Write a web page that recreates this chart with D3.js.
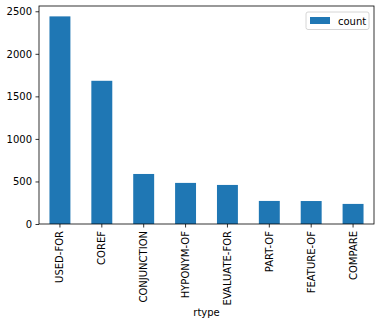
<!DOCTYPE html>
<html>
<head>
<meta charset="utf-8">
<script src="https://cdn.jsdelivr.net/npm/d3@7"></script>
<style>
  body { margin: 0; background: #fff; }
  svg text { font-family: "DejaVu Sans", sans-serif; }
</style>
</head>
<body>
<svg id="chart" width="381" height="326"></svg>
<script>
const categories = ["USED-FOR", "COREF", "CONJUNCTION", "HYPONYM-OF", "EVALUATE-FOR", "PART-OF", "FEATURE-OF", "COMPARE"];
const counts = [2440, 1683, 588, 483, 459, 271, 270, 236];
const yTicks = [0, 500, 1000, 1500, 2000, 2500];

const svg = d3.select("#chart");
const margin = { top: 6, right: 7, bottom: 102, left: 39 };
const width = +svg.attr("width") - margin.left - margin.right;
const height = +svg.attr("height") - margin.top - margin.bottom;

const g = svg.append("g")
  .attr("transform", `translate(${margin.left},${margin.top})`);

const x = d3.scaleBand()
  .domain(categories)
  .range([0, width])
  .paddingInner(0.5)
  .paddingOuter(0.25);

const y = d3.scaleLinear()
  .domain([0, d3.max(counts) * 1.05])
  .range([height, 0]);

g.selectAll("rect.bar")
  .data(categories)
  .join("rect")
  .attr("class", "bar")
  .attr("x", d => x(d))
  .attr("width", x.bandwidth())
  .attr("y", (d, i) => y(counts[i]))
  .attr("height", (d, i) => height - y(counts[i]))
  .attr("fill", "#1f77b4");

const xAxis = g.append("g")
  .attr("transform", `translate(0,${height})`)
  .call(d3.axisBottom(x).tickSizeOuter(0).tickSize(3.5).tickPadding(3.5));
xAxis.selectAll("text")
  .attr("transform", "rotate(-90)")
  .attr("x", -7)
  .attr("y", 0)
  .attr("dy", "0.35em")
  .attr("text-anchor", "end")
  .attr("font-size", 10)
  .attr("fill", "#000");

const yAxis = g.append("g")
  .call(d3.axisLeft(y).tickValues(yTicks).tickFormat(d3.format("d"))
    .tickSizeOuter(0).tickSize(3.5).tickPadding(3.5));
yAxis.selectAll("text").attr("font-size", 10).attr("fill", "#000");

[xAxis, yAxis].forEach(a => {
  a.select(".domain").remove();
  a.selectAll("line").attr("stroke", "#000").attr("stroke-width", 0.8);
  a.attr("font-family", null);
});

// frame
g.append("rect")
  .attr("width", width)
  .attr("height", height)
  .attr("fill", "none")
  .attr("stroke", "#000")
  .attr("stroke-width", 0.8);

// x label
g.append("text")
  .attr("x", width / 2)
  .attr("y", 310)
  .attr("text-anchor", "middle")
  .attr("font-size", 10)
  .text("rtype");

// legend
const legend = g.append("g").attr("transform", `translate(${width - 68},6)`);
legend.append("rect")
  .attr("width", 63).attr("height", 17.5).attr("rx", 2)
  .attr("fill", "#fff").attr("fill-opacity", 0.8)
  .attr("stroke", "#ccc").attr("stroke-width", 0.8);
legend.append("rect")
  .attr("x", 4).attr("y", 5).attr("width", 20).attr("height", 7)
  .attr("fill", "#1f77b4");
legend.append("text")
  .attr("x", 32).attr("y", 12.5)
  .attr("font-size", 10)
  .text("count");
</script>
</body>
</html>
